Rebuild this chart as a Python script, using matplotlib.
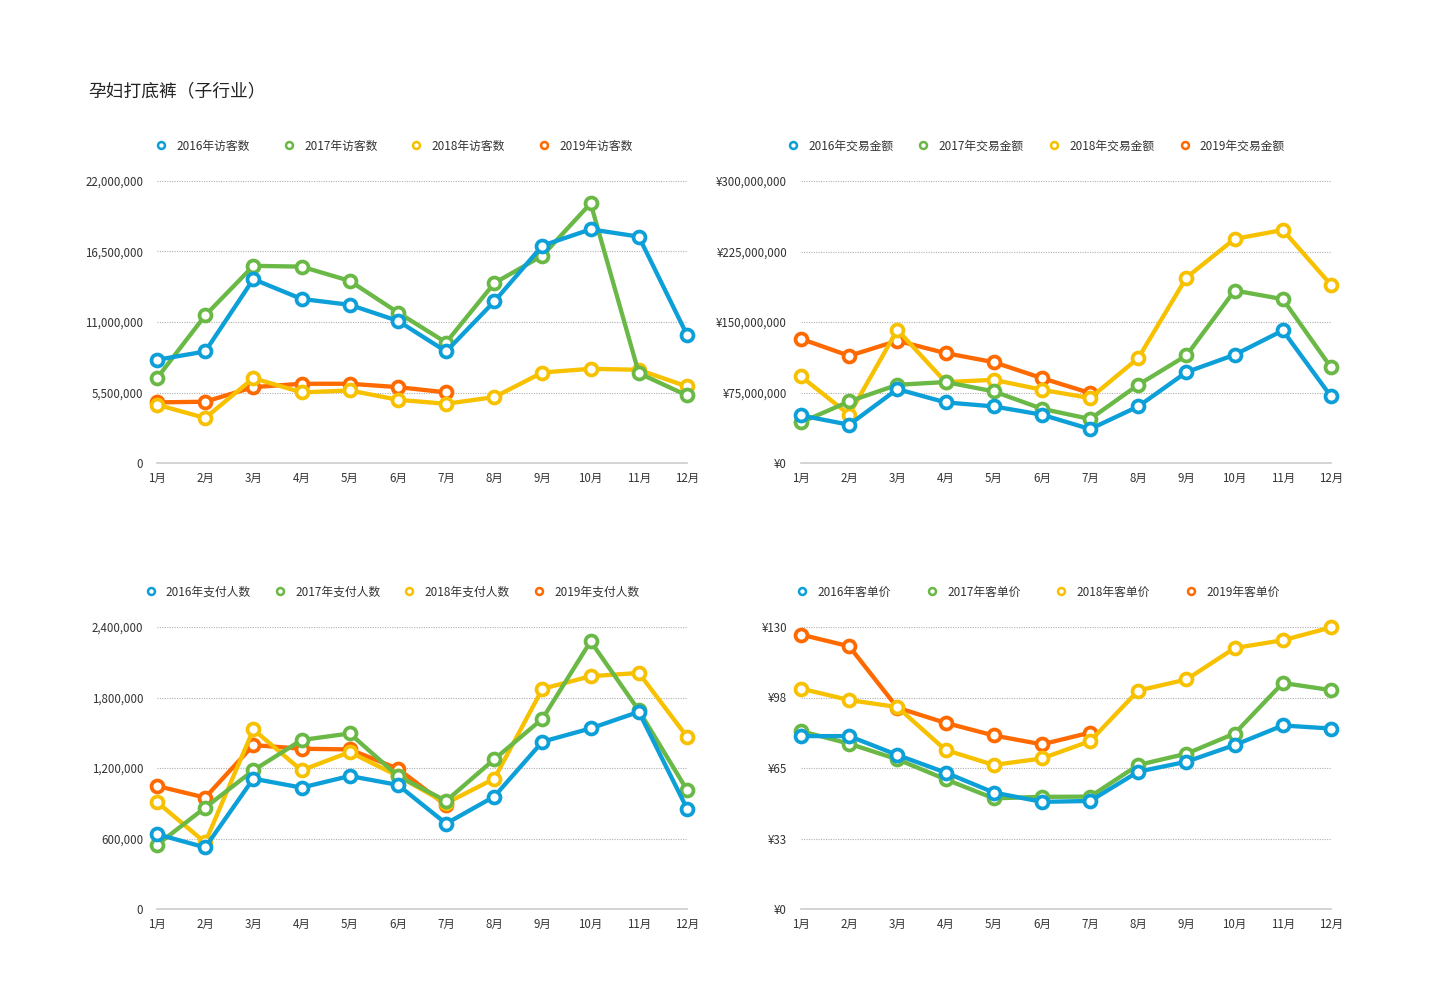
import matplotlib
matplotlib.use('Agg')
import matplotlib.pyplot as plt
from matplotlib.lines import Line2D

plt.rcParams['font.family'] = ['Noto Sans CJK SC', 'DejaVu Sans']

months = ['1月', '2月', '3月', '4月', '5月', '6月', '7月', '8月', '9月', '10月', '11月', '12月']
years = ['2016年', '2017年', '2018年', '2019年']
colors = ['#0c9fd8', '#6ab845', '#f7c100', '#ff6a00']

# 访客数
visitors_2016 = [8050000, 8700000, 14340000, 12800000, 12340000, 11090000, 8700000, 12600000, 16960000, 18230000, 17660000, 10000000]
visitors_2017 = [6620000, 11510000, 15380000, 15320000, 14210000, 11740000, 9400000, 14030000, 16180000, 20260000, 7010000, 5270000]
visitors_2018 = [4550000, 3510000, 6620000, 5510000, 5660000, 4930000, 4620000, 5140000, 7060000, 7350000, 7270000, 5970000]
visitors_2019 = [4730000, 4780000, 5920000, 6180000, 6180000, 5920000, 5510000]

# 交易金额
sales_2016 = [50600000, 40700000, 78600000, 64500000, 60200000, 51400000, 36100000, 60200000, 96700000, 115100000, 141000000, 70800000]
sales_2017 = [43200000, 65500000, 83200000, 86100000, 76200000, 57700000, 46800000, 83200000, 114400000, 183500000, 174300000, 101700000]
sales_2018 = [92100000, 51400000, 141700000, 86100000, 88500000, 77900000, 69100000, 111600000, 197300000, 238400000, 247900000, 189500000]
sales_2019 = [132100000, 114000000, 130000000, 116900000, 107300000, 90300000, 74400000]

# 支付人数
buyers_2016 = [637000, 524000, 1109000, 1033000, 1132000, 1056000, 727000, 957000, 1424000, 1537000, 1678000, 855000]
buyers_2017 = [546000, 863000, 1180000, 1438000, 1494000, 1132000, 920000, 1274000, 1619000, 2278000, 1690000, 1013000]
buyers_2018 = [911000, 566000, 1528000, 1180000, 1336000, 1132000, 900000, 1109000, 1874000, 1981000, 2009000, 1466000]
buyers_2019 = [1047000, 948000, 1395000, 1364000, 1358000, 1194000, 883000]

# 客单价
price_2016 = [79.7, 79.7, 71.0, 62.9, 53.7, 49.4, 49.8, 63.3, 67.9, 75.6, 84.6, 83.2]
price_2017 = [82.0, 76.2, 69.0, 59.8, 51.0, 51.7, 51.8, 66.4, 71.6, 80.9, 104.2, 100.9]
price_2018 = [101.6, 96.3, 93.1, 73.3, 66.4, 69.4, 77.4, 100.7, 105.8, 120.3, 123.9, 129.8]
price_2019 = [126.5, 121.1, 92.8, 85.8, 80.0, 75.9, 81.3]

W, H = 1431, 990
fig = plt.figure(figsize=(W / 100, H / 100), dpi=100)
fig.text(88 / W, 1 - 91 / H, '孕妇打底裤（子行业）', fontsize=12.8, color='#222222', va='center', ha='left')


def fmt_num(v, prefix):
    return prefix + '{:,}'.format(int(v + 0.5))


def draw_chart(x0, y0, x1, y1, series, name, ymax, prefix, legend_cx, colspace):
    ax = fig.add_axes([x0 / W, 1 - y1 / H, (x1 - x0) / W, (y1 - y0) / H])
    xs = list(range(len(months)))
    # later years underneath, 2016 on top
    for i in range(3, -1, -1):
        vals = series[i]
        ax.plot(xs[:len(vals)], vals, color=colors[i], lw=3.1, marker='o', ms=8.6,
                mfc='white', mec=colors[i], mew=2.7, solid_joinstyle='round',
                clip_on=False, zorder=3 + (3 - i))
    ax.set_xlim(0, 11)
    ax.set_ylim(0, ymax)
    ticks = [ymax * k / 4 for k in range(5)]
    ax.set_yticks(ticks)
    ax.set_yticklabels([fmt_num(t, prefix) for t in ticks])
    ax.set_xticks(xs)
    ax.set_xticklabels(months)
    for t in ticks[1:]:
        ax.axhline(t, color='#b0b0b0', lw=0.8, ls=(0, (1, 1.2)), zorder=1)
    for s in ['top', 'right', 'left']:
        ax.spines[s].set_visible(False)
    ax.spines['bottom'].set_color('#cccccc')
    ax.spines['bottom'].set_linewidth(1.2)
    ax.tick_params(axis='both', length=0, labelsize=8.3, colors='#333333')
    ax.tick_params(axis='y', pad=10)
    ax.tick_params(axis='x', pad=6.5)
    handles = [Line2D([], [], color='none', marker='o', ms=5, mfc='white', mec=colors[i], mew=1.8)
               for i in range(4)]
    labels = [y + name for y in years]
    fig.legend(handles, labels, loc='center', bbox_to_anchor=(legend_cx / W, 1 - (y0 - 35) / H),
               ncol=4, frameon=False, fontsize=8.5, handlelength=1.0, handletextpad=0.8,
               columnspacing=colspace, labelcolor='#333333')
    return ax


draw_chart(157, 181, 687, 463, [visitors_2016, visitors_2017, visitors_2018, visitors_2019],
           '访客数', 22000000, '', 394, 2.8)
draw_chart(801, 181, 1331, 463, [sales_2016, sales_2017, sales_2018, sales_2019],
           '交易金额', 300000000, '¥', 1036, 2.05)
draw_chart(157, 627, 687, 909, [buyers_2016, buyers_2017, buyers_2018, buyers_2019],
           '支付人数', 2400000, '', 392, 1.95)
draw_chart(801, 627, 1331, 909, [price_2016, price_2017, price_2018, price_2019],
           '客单价', 130, '¥', 1038, 2.95)

fig.savefig('out.png', dpi=100, facecolor='white')
